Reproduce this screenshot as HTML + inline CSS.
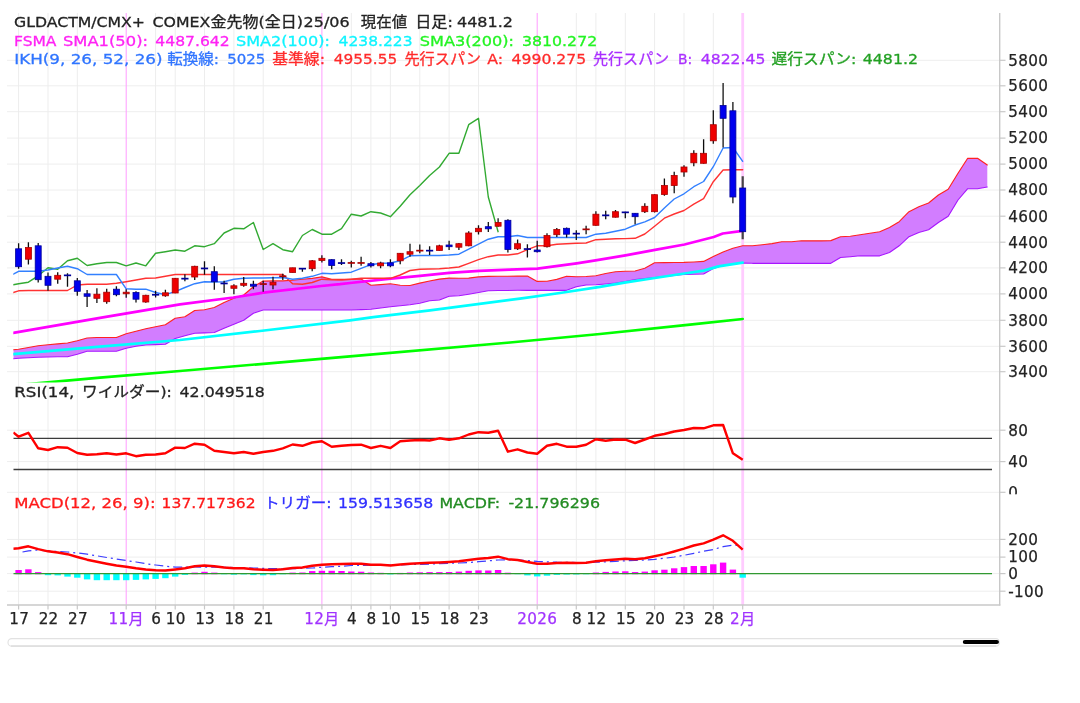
<!DOCTYPE html>
<html lang="ja"><head><meta charset="utf-8"><title>GLDACTM/CMX+ COMEX金先物</title>
<style>
html,body{margin:0;padding:0;background:#fff;}
body{width:1080px;height:703px;overflow:hidden;}
svg{display:block;}
text{font-family:"DejaVu Sans","Liberation Sans","Noto Sans CJK JP",sans-serif;}
.t{font-size:14.5px;stroke-width:0.3px;}
.ax{font-size:15.2px;fill:#222;stroke:#222;stroke-width:0.25px;letter-spacing:0.3px;}
</style></head><body>
<svg width="1080" height="703" viewBox="0 0 1080 703">
<defs>
<clipPath id="cm"><rect x="13.3" y="13" width="986" height="369.5"/></clipPath>
<clipPath id="cr"><rect x="13.3" y="383" width="986" height="111"/></clipPath>
<clipPath id="cd"><rect x="13.3" y="494.5" width="986" height="110"/></clipPath>
<clipPath id="cl"><rect x="1000" y="380" width="28.2" height="114.2"/></clipPath>
</defs>
<filter id="bl" x="0" y="0" width="1080" height="703" filterUnits="userSpaceOnUse"><feGaussianBlur stdDeviation="0.45"/></filter>
<rect width="1080" height="703" fill="#fff"/>
<g filter="url(#bl)">

<g stroke="#eeeeee" stroke-width="1">
<line x1="7" x2="999.5" y1="60.3" y2="60.3"/>
<line x1="7" x2="999.5" y1="85.8" y2="85.8"/>
<line x1="7" x2="999.5" y1="111.7" y2="111.7"/>
<line x1="7" x2="999.5" y1="138.1" y2="138.1"/>
<line x1="7" x2="999.5" y1="164.1" y2="164.1"/>
<line x1="7" x2="999.5" y1="190" y2="190"/>
<line x1="7" x2="999.5" y1="216.2" y2="216.2"/>
<line x1="7" x2="999.5" y1="242.2" y2="242.2"/>
<line x1="7" x2="999.5" y1="267.9" y2="267.9"/>
<line x1="7" x2="999.5" y1="293.9" y2="293.9"/>
<line x1="7" x2="999.5" y1="320.3" y2="320.3"/>
<line x1="7" x2="999.5" y1="346.3" y2="346.3"/>
<line x1="7" x2="999.5" y1="371.7" y2="371.7"/>
<line x1="7" x2="999.5" y1="430.2" y2="430.2"/>
<line x1="7" x2="999.5" y1="461.6" y2="461.6"/>
<line x1="7" x2="999.5" y1="492.3" y2="492.3"/>
<line x1="7" x2="999.5" y1="539.4" y2="539.4"/>
<line x1="7" x2="999.5" y1="557.1" y2="557.1"/>
<line x1="7" x2="999.5" y1="573.6" y2="573.6"/>
<line x1="7" x2="999.5" y1="591.2" y2="591.2"/>
</g>
<g stroke-width="1">
<line x1="18.6" x2="18.6" y1="13" y2="605" stroke="#ededed"/>
<line x1="48" x2="48" y1="13" y2="605" stroke="#ededed"/>
<line x1="77.3" x2="77.3" y1="13" y2="605" stroke="#ededed"/>
<line x1="126.2" x2="126.2" y1="13" y2="605" stroke="#ff9cff"/>
<line x1="155.6" x2="155.6" y1="13" y2="605" stroke="#ededed"/>
<line x1="175.2" x2="175.2" y1="13" y2="605" stroke="#ededed"/>
<line x1="204.5" x2="204.5" y1="13" y2="605" stroke="#ededed"/>
<line x1="233.9" x2="233.9" y1="13" y2="605" stroke="#ededed"/>
<line x1="263.2" x2="263.2" y1="13" y2="605" stroke="#ededed"/>
<line x1="321.9" x2="321.9" y1="13" y2="605" stroke="#ff9cff"/>
<line x1="351.3" x2="351.3" y1="13" y2="605" stroke="#ededed"/>
<line x1="370.9" x2="370.9" y1="13" y2="605" stroke="#ededed"/>
<line x1="390.4" x2="390.4" y1="13" y2="605" stroke="#ededed"/>
<line x1="419.8" x2="419.8" y1="13" y2="605" stroke="#ededed"/>
<line x1="449.1" x2="449.1" y1="13" y2="605" stroke="#ededed"/>
<line x1="478.5" x2="478.5" y1="13" y2="605" stroke="#ededed"/>
<line x1="537.2" x2="537.2" y1="13" y2="605" stroke="#ff9cff"/>
<line x1="576.3" x2="576.3" y1="13" y2="605" stroke="#ededed"/>
<line x1="595.9" x2="595.9" y1="13" y2="605" stroke="#ededed"/>
<line x1="625.3" x2="625.3" y1="13" y2="605" stroke="#ededed"/>
<line x1="654.6" x2="654.6" y1="13" y2="605" stroke="#ededed"/>
<line x1="684" x2="684" y1="13" y2="605" stroke="#ededed"/>
<line x1="713.3" x2="713.3" y1="13" y2="605" stroke="#ededed"/>
<line x1="742.7" x2="742.7" y1="13" y2="605" stroke="#ffccff" stroke-width="2.8"/>
</g>
<g clip-path="url(#cm)" fill="none" stroke-linejoin="round" stroke-linecap="round">
<path d="M13.3 349.7 L18.6 349.2 L28.4 347.5 L38.2 345.8 L48 344.8 L57.7 343.9 L67.5 343 L77.3 340.8 L87.1 338 L96.9 337.5 L106.7 337.5 L116.4 337.5 L126.2 333.8 L136 331.2 L145.8 328.7 L155.6 326.7 L165.4 324.7 L175.2 318.3 L184.9 316.7 L194.7 310.5 L204.5 309.7 L214.3 307.5 L224.1 302.5 L233.9 298.3 L243.7 295 L253.4 286.7 L263.2 281.1 L273 280.9 L282.8 280.9 L292.6 280.2 L302.4 279.2 L312.2 278.4 L321.9 276.9 L331.7 279.4 L341.5 279.4 L351.3 279.4 L361.1 278.9 L370.9 285.2 L380.6 284.6 L390.4 283.8 L400.2 285.2 L410 285.5 L419.8 283.1 L429.6 281 L439.4 279.1 L449.1 278.1 L458.9 278.2 L468.7 278.1 L478.5 276.9 L488.3 276.4 L498.1 276.2 L507.9 276.2 L517.6 276.1 L527.4 276 L537.2 281.4 L547 281.2 L556.8 279.4 L566.6 276.2 L576.3 276.7 L586.1 276.5 L595.9 275.7 L605.7 273.5 L615.5 271.7 L625.3 271.3 L635.1 271 L644.8 268.2 L654.6 262.8 L664.4 262.6 L674.2 262.5 L684 262.4 L693.8 262 L703.6 261.4 L713.3 256.5 L723.1 252 L732.9 248.3 L742.7 245.7 L752.5 245.8 L762.3 244.7 L772 243.6 L781.8 241.7 L791.6 241.7 L801.4 240.8 L811.2 240.8 L821 240.8 L830.8 240.6 L840.5 236.7 L850.3 236.3 L860.1 234.7 L869.9 233.3 L879.7 231.7 L889.5 227.5 L899.2 221.7 L909 211.7 L918.8 206.7 L928.6 203 L938.4 195 L948.2 189.2 L958 173.3 L967.7 158.3 L977.5 158.3 L987.3 165 L987.3 187 L977.5 188.7 L967.7 188.7 L958 200 L948.2 216.3 L938.4 222.5 L928.6 229.7 L918.8 232.5 L909 236.7 L899.2 245.8 L889.5 252.5 L879.7 255.8 L869.9 255.8 L860.1 255.8 L850.3 256.7 L840.5 257.5 L830.8 263.3 L821 263.3 L811.2 263.3 L801.4 263.3 L791.6 263.3 L781.8 263.3 L772 263.3 L762.3 263.3 L752.5 263.3 L742.7 263 L732.9 264 L723.1 265.5 L713.3 268.5 L703.6 274 L693.8 274.3 L684 274.5 L674.2 275.5 L664.4 276.5 L654.6 277.5 L644.8 278.5 L635.1 279.5 L625.3 281.5 L615.5 283 L605.7 284 L595.9 284.8 L586.1 285 L576.3 286.7 L566.6 290.3 L556.8 290.3 L547 290.3 L537.2 290.3 L527.4 290.3 L517.6 290.3 L507.9 290.5 L498.1 290.5 L488.3 290.8 L478.5 292.5 L468.7 294.2 L458.9 295.8 L449.1 296.3 L439.4 300 L429.6 300.8 L419.8 303.3 L410 304.7 L400.2 305.7 L390.4 306.7 L380.6 308 L370.9 309.2 L361.1 309.6 L351.3 310 L341.5 310 L331.7 310 L321.9 310 L312.2 310 L302.4 310 L292.6 310 L282.8 310 L273 310 L263.2 310 L253.4 313.3 L243.7 320.3 L233.9 324.2 L224.1 328.3 L214.3 332.5 L204.5 332.9 L194.7 333.3 L184.9 335.8 L175.2 338.5 L165.4 344.2 L155.6 344.6 L145.8 345 L136 346.3 L126.2 348.3 L116.4 351.2 L106.7 351.2 L96.9 351.2 L87.1 351.2 L77.3 354.2 L67.5 356.7 L57.7 356.8 L48 357 L38.2 357.2 L28.4 357.7 L18.6 358.3 L13.3 358.7 Z" fill="#d27dff" stroke="none"/>
<path d="M13.3 358.7 L18.6 358.3 L28.4 357.7 L38.2 357.2 L48 357 L57.7 356.8 L67.5 356.7 L77.3 354.2 L87.1 351.2 L96.9 351.2 L106.7 351.2 L116.4 351.2 L126.2 348.3 L136 346.3 L145.8 345 L155.6 344.6 L165.4 344.2 L175.2 338.5 L184.9 335.8 L194.7 333.3 L204.5 332.9 L214.3 332.5 L224.1 328.3 L233.9 324.2 L243.7 320.3 L253.4 313.3 L263.2 310 L273 310 L282.8 310 L292.6 310 L302.4 310 L312.2 310 L321.9 310 L331.7 310 L341.5 310 L351.3 310 L361.1 309.6 L370.9 309.2 L380.6 308 L390.4 306.7 L400.2 305.7 L410 304.7 L419.8 303.3 L429.6 300.8 L439.4 300 L449.1 296.3 L458.9 295.8 L468.7 294.2 L478.5 292.5 L488.3 290.8 L498.1 290.5 L507.9 290.5 L517.6 290.3 L527.4 290.3 L537.2 290.3 L547 290.3 L556.8 290.3 L566.6 290.3 L576.3 286.7 L586.1 285 L595.9 284.8 L605.7 284 L615.5 283 L625.3 281.5 L635.1 279.5 L644.8 278.5 L654.6 277.5 L664.4 276.5 L674.2 275.5 L684 274.5 L693.8 274.3 L703.6 274 L713.3 268.5 L723.1 265.5 L732.9 264 L742.7 263 L752.5 263.3 L762.3 263.3 L772 263.3 L781.8 263.3 L791.6 263.3 L801.4 263.3 L811.2 263.3 L821 263.3 L830.8 263.3 L840.5 257.5 L850.3 256.7 L860.1 255.8 L869.9 255.8 L879.7 255.8 L889.5 252.5 L899.2 245.8 L909 236.7 L918.8 232.5 L928.6 229.7 L938.4 222.5 L948.2 216.3 L958 200 L967.7 188.7 L977.5 188.7 L987.3 187" stroke="#a818ff" stroke-width="1.15"/>
<path d="M13.3 349.7 L18.6 349.2 L28.4 347.5 L38.2 345.8 L48 344.8 L57.7 343.9 L67.5 343 L77.3 340.8 L87.1 338 L96.9 337.5 L106.7 337.5 L116.4 337.5 L126.2 333.8 L136 331.2 L145.8 328.7 L155.6 326.7 L165.4 324.7 L175.2 318.3 L184.9 316.7 L194.7 310.5 L204.5 309.7 L214.3 307.5 L224.1 302.5 L233.9 298.3 L243.7 295 L253.4 286.7 L263.2 281.1 L273 280.9 L282.8 280.9 L292.6 280.2 L302.4 279.2 L312.2 278.4 L321.9 276.9 L331.7 279.4 L341.5 279.4 L351.3 279.4 L361.1 278.9 L370.9 285.2 L380.6 284.6 L390.4 283.8 L400.2 285.2 L410 285.5 L419.8 283.1 L429.6 281 L439.4 279.1 L449.1 278.1 L458.9 278.2 L468.7 278.1 L478.5 276.9 L488.3 276.4 L498.1 276.2 L507.9 276.2 L517.6 276.1 L527.4 276 L537.2 281.4 L547 281.2 L556.8 279.4 L566.6 276.2 L576.3 276.7 L586.1 276.5 L595.9 275.7 L605.7 273.5 L615.5 271.7 L625.3 271.3 L635.1 271 L644.8 268.2 L654.6 262.8 L664.4 262.6 L674.2 262.5 L684 262.4 L693.8 262 L703.6 261.4 L713.3 256.5 L723.1 252 L732.9 248.3 L742.7 245.7 L752.5 245.8 L762.3 244.7 L772 243.6 L781.8 241.7 L791.6 241.7 L801.4 240.8 L811.2 240.8 L821 240.8 L830.8 240.6 L840.5 236.7 L850.3 236.3 L860.1 234.7 L869.9 233.3 L879.7 231.7 L889.5 227.5 L899.2 221.7 L909 211.7 L918.8 206.7 L928.6 203 L938.4 195 L948.2 189.2 L958 173.3 L967.7 158.3 L977.5 158.3 L987.3 165" stroke="#ff2222" stroke-width="1.15"/>
<path d="M13.3 385.3 L30.8 383.9 L100 377.6 L180 371 L350 356.3 L510 342.5 L600 334 L690 324.7 L742.7 319" stroke="#00ff00" stroke-width="2.7"/>
<path d="M13.3 354.2 L100 346.6 L180 340 L260 331 L350 320.3 L373.3 317.2 L430 310.3 L520 298.6 L560 293 L600 286.9 L625.9 282.4 L654.8 278 L684.4 273.5 L703.7 270.6 L718.5 266.4 L742.7 262.6" stroke="#00ffff" stroke-width="2.7"/>
<path d="M13.3 332.8 L100 317.8 L180 304.4 L233.3 297.5 L263.3 292.7 L321.3 286 L340 284.2 L350 283 L390.8 278.7 L420 275.8 L449.2 272.8 L479.2 270.8 L510 269.7 L537.5 268.7 L576.7 263.3 L595.5 260.3 L625.5 255.3 L655 249.9 L684.5 244.5 L713.7 237 L722.8 233.5 L742.7 230.8" stroke="#ff00ff" stroke-width="2.7"/>
<path d="M13.3 284.7 L18.6 283.7 L28.4 282.2 L38.2 275.8 L48 267.8 L57.7 269.3 L67.5 260.8 L77.3 258.3 L87.1 265.5 L96.9 263.7 L106.7 262.5 L116.4 262.5 L126.2 265.8 L136 263 L145.8 265.8 L155.6 253.3 L165.4 251.7 L175.2 250 L184.9 251.2 L194.7 245.8 L204.5 246.7 L214.3 243.7 L224.1 233 L233.9 228.3 L243.7 228.8 L253.4 222.5 L263.2 249.5 L273 243.7 L282.8 249.7 L292.6 251.7 L302.4 235.5 L312.2 229.5 L321.9 234.2 L331.7 234.2 L341.5 228.7 L351.3 214.2 L361.1 216 L370.9 211.7 L380.6 213 L390.4 216.7 L400.2 206.3 L410 194.7 L419.8 185.5 L429.6 175.5 L439.4 167 L449.1 153.3 L458.9 153.3 L468.7 124.7 L478.5 118.3 L488.3 197 L498.1 231.7" stroke="#33aa33" stroke-width="1.4"/>
<path d="M13.3 292.5 L18.6 290.8 L28.4 290.5 L38.2 290.5 L48 290.5 L57.7 290.5 L67.5 290.5 L77.3 285 L87.1 284.2 L96.9 284.2 L106.7 284.2 L116.4 283.3 L126.2 281.7 L136 280 L145.8 278.3 L155.6 278 L165.4 276.3 L175.2 274.5 L184.9 274.5 L194.7 274.5 L204.5 274.5 L214.3 274.5 L224.1 274.5 L233.9 274.5 L243.7 274.5 L253.4 274.5 L263.2 274.5 L273 274.5 L282.8 274.5 L292.6 283.7 L302.4 284.2 L312.2 282.5 L321.9 279.2 L331.7 279.7 L341.5 280 L351.3 279.2 L361.1 278.3 L370.9 278.3 L380.6 278.3 L390.4 278.3 L400.2 275 L410 270.5 L419.8 269.2 L429.6 269 L439.4 268.7 L449.1 268 L458.9 267 L468.7 263.3 L478.5 259.7 L488.3 256.7 L498.1 255 L507.9 255 L517.6 253.8 L527.4 249.7 L537.2 245.8 L547 245.8 L556.8 244.2 L566.6 243.8 L576.3 243.3 L586.1 243 L595.9 239.7 L605.7 239.2 L615.5 238.8 L625.3 238.6 L635.1 238.3 L644.8 234 L654.6 226.2 L664.4 218.2 L674.2 214 L684 210.5 L693.8 204.2 L703.6 198.7 L713.3 181.7 L723.1 170 L732.9 169.7 L742.7 169.7" stroke="#ff3333" stroke-width="1.4"/>
<path d="M13.3 274.2 L18.6 271.3 L28.4 271.3 L38.2 271.3 L48 270 L57.7 268 L67.5 266.3 L77.3 268.7 L87.1 274.5 L96.9 274.5 L106.7 274.5 L116.4 274.5 L126.2 288.8 L136 289.2 L145.8 289.2 L155.6 292.5 L165.4 294.7 L175.2 291.7 L184.9 287.5 L194.7 283.7 L204.5 281.7 L214.3 282 L224.1 281.7 L233.9 279.2 L243.7 278.3 L253.4 278 L263.2 278 L273 277.7 L282.8 277.5 L292.6 279.2 L302.4 278.3 L312.2 276.3 L321.9 273.3 L331.7 273.7 L341.5 273 L351.3 272.2 L361.1 268.3 L370.9 264.7 L380.6 263.3 L390.4 263 L400.2 260.8 L410 255.8 L419.8 255.5 L429.6 255.5 L439.4 255.5 L449.1 255 L458.9 254.2 L468.7 249.2 L478.5 244.2 L488.3 239.2 L498.1 236.7 L507.9 236.7 L517.6 235.5 L527.4 237.5 L537.2 237.5 L547 237.5 L556.8 237.5 L566.6 237.5 L576.3 237.5 L586.1 237.5 L595.9 234.2 L605.7 233.3 L615.5 231.2 L625.3 229.2 L635.1 225 L644.8 221.8 L654.6 217.5 L664.4 208 L674.2 199 L684 193.8 L693.8 186.7 L703.6 181.5 L713.3 166.7 L723.1 148 L732.9 147.5 L742.7 161.3" stroke="#3380ff" stroke-width="1.4"/>
</g>
<g clip-path="url(#cm)">
<line x1="18.6" x2="18.6" y1="243.3" y2="268.7" stroke="#111" stroke-width="1.3"/>
<rect x="15.6" y="248.8" width="6.0" height="17.9" fill="#0000ee" stroke="#000099" stroke-width="0.8"/>
<line x1="28.4" x2="28.4" y1="242.2" y2="264.5" stroke="#111" stroke-width="1.3"/>
<rect x="25.4" y="247.5" width="6.0" height="11.7" fill="#ee0000" stroke="#aa0000" stroke-width="0.8"/>
<line x1="38.2" x2="38.2" y1="243" y2="282.5" stroke="#111" stroke-width="1.3"/>
<rect x="35.2" y="245.8" width="6.0" height="33.9" fill="#0000ee" stroke="#000099" stroke-width="0.8"/>
<line x1="48" x2="48" y1="272.5" y2="290.8" stroke="#111" stroke-width="1.3"/>
<rect x="45" y="276.3" width="6.0" height="9" fill="#0000ee" stroke="#000099" stroke-width="0.8"/>
<line x1="57.7" x2="57.7" y1="272.2" y2="283.7" stroke="#111" stroke-width="1.3"/>
<rect x="54.7" y="275.3" width="6.0" height="3.9" fill="#ee0000" stroke="#aa0000" stroke-width="0.8"/>
<line x1="67.5" x2="67.5" y1="273.3" y2="286.7" stroke="#111" stroke-width="1.3"/>
<rect x="63.9" y="274.5" width="7.2" height="1.7" fill="#000099"/>
<line x1="77.3" x2="77.3" y1="278" y2="295.8" stroke="#111" stroke-width="1.3"/>
<rect x="74.3" y="280.8" width="6.0" height="10.5" fill="#0000ee" stroke="#000099" stroke-width="0.8"/>
<line x1="87.1" x2="87.1" y1="290" y2="307" stroke="#111" stroke-width="1.3"/>
<rect x="84.1" y="293.8" width="6.0" height="2.5" fill="#0000ee" stroke="#000099" stroke-width="0.8"/>
<line x1="96.9" x2="96.9" y1="288.3" y2="303" stroke="#111" stroke-width="1.3"/>
<rect x="93.9" y="294.2" width="6.0" height="4.1" fill="#ee0000" stroke="#aa0000" stroke-width="0.8"/>
<line x1="106.7" x2="106.7" y1="288.7" y2="303.7" stroke="#111" stroke-width="1.3"/>
<rect x="103.7" y="292.2" width="6.0" height="9.5" fill="#ee0000" stroke="#aa0000" stroke-width="0.8"/>
<line x1="116.4" x2="116.4" y1="286.3" y2="296.3" stroke="#111" stroke-width="1.3"/>
<rect x="113.4" y="289.2" width="6.0" height="5.5" fill="#0000ee" stroke="#000099" stroke-width="0.8"/>
<line x1="126.2" x2="126.2" y1="289.2" y2="297.8" stroke="#111" stroke-width="1.3"/>
<rect x="123.2" y="292.2" width="6.0" height="1.6" fill="#ee0000" stroke="#aa0000" stroke-width="0.8"/>
<line x1="136" x2="136" y1="291.3" y2="302.5" stroke="#111" stroke-width="1.3"/>
<rect x="133" y="292.5" width="6.0" height="6.7" fill="#0000ee" stroke="#000099" stroke-width="0.8"/>
<line x1="145.8" x2="145.8" y1="294.7" y2="302.7" stroke="#111" stroke-width="1.3"/>
<rect x="142.8" y="295.3" width="6.0" height="6.7" fill="#ee0000" stroke="#aa0000" stroke-width="0.8"/>
<line x1="155.6" x2="155.6" y1="290.8" y2="297.5" stroke="#111" stroke-width="1.3"/>
<rect x="152" y="293.9" width="7.2" height="1.7" fill="#000099"/>
<line x1="165.4" x2="165.4" y1="289.7" y2="296.7" stroke="#111" stroke-width="1.3"/>
<rect x="162.4" y="292.8" width="6.0" height="3" fill="#ee0000" stroke="#aa0000" stroke-width="0.8"/>
<line x1="175.2" x2="175.2" y1="278" y2="293.3" stroke="#111" stroke-width="1.3"/>
<rect x="172.2" y="278.3" width="6.0" height="14.7" fill="#ee0000" stroke="#aa0000" stroke-width="0.8"/>
<line x1="184.9" x2="184.9" y1="274.2" y2="281.2" stroke="#111" stroke-width="1.3"/>
<rect x="181.3" y="277.8" width="7.2" height="1.7" fill="#000099"/>
<line x1="194.7" x2="194.7" y1="265.8" y2="280" stroke="#111" stroke-width="1.3"/>
<rect x="191.7" y="266.3" width="6.0" height="10.7" fill="#ee0000" stroke="#aa0000" stroke-width="0.8"/>
<line x1="204.5" x2="204.5" y1="261.3" y2="274.7" stroke="#111" stroke-width="1.3"/>
<rect x="200.9" y="267.6" width="7.2" height="1.7" fill="#000099"/>
<line x1="214.3" x2="214.3" y1="266.3" y2="289.7" stroke="#111" stroke-width="1.3"/>
<rect x="211.3" y="271.7" width="6.0" height="10" fill="#0000ee" stroke="#000099" stroke-width="0.8"/>
<line x1="224.1" x2="224.1" y1="280.8" y2="293" stroke="#111" stroke-width="1.3"/>
<rect x="220.5" y="282.6" width="7.2" height="1.7" fill="#000099"/>
<line x1="233.9" x2="233.9" y1="284.2" y2="294.2" stroke="#111" stroke-width="1.3"/>
<rect x="230.9" y="285.8" width="6.0" height="2.5" fill="#ee0000" stroke="#aa0000" stroke-width="0.8"/>
<line x1="243.7" x2="243.7" y1="277" y2="286.7" stroke="#111" stroke-width="1.3"/>
<rect x="240.7" y="283.3" width="6.0" height="2" fill="#ee0000" stroke="#aa0000" stroke-width="0.8"/>
<line x1="253.4" x2="253.4" y1="280.8" y2="289.2" stroke="#111" stroke-width="1.3"/>
<rect x="250.4" y="284.2" width="6.0" height="2" fill="#0000ee" stroke="#000099" stroke-width="0.8"/>
<line x1="263.2" x2="263.2" y1="280.8" y2="291.7" stroke="#111" stroke-width="1.3"/>
<rect x="259.6" y="283.2" width="7.2" height="1.7" fill="#aa0000"/>
<line x1="273" x2="273" y1="276.7" y2="289.2" stroke="#111" stroke-width="1.3"/>
<rect x="270" y="282.2" width="6.0" height="2.8" fill="#ee0000" stroke="#aa0000" stroke-width="0.8"/>
<line x1="282.8" x2="282.8" y1="273.8" y2="280" stroke="#111" stroke-width="1.3"/>
<rect x="279.2" y="275.4" width="7.2" height="1.7" fill="#aa0000"/>
<line x1="292.6" x2="292.6" y1="267.8" y2="272.5" stroke="#111" stroke-width="1.3"/>
<rect x="289.6" y="267.8" width="6.0" height="4.7" fill="#ee0000" stroke="#aa0000" stroke-width="0.8"/>
<line x1="302.4" x2="302.4" y1="268" y2="271.7" stroke="#111" stroke-width="1.3"/>
<rect x="298.8" y="267.8" width="7.2" height="1.7" fill="#000099"/>
<line x1="312.2" x2="312.2" y1="260" y2="271.3" stroke="#111" stroke-width="1.3"/>
<rect x="309.2" y="260.8" width="6.0" height="7.9" fill="#ee0000" stroke="#aa0000" stroke-width="0.8"/>
<line x1="321.9" x2="321.9" y1="255.3" y2="262.5" stroke="#111" stroke-width="1.3"/>
<rect x="318.9" y="258.3" width="6.0" height="2.2" fill="#ee0000" stroke="#aa0000" stroke-width="0.8"/>
<line x1="331.7" x2="331.7" y1="259.2" y2="269.2" stroke="#111" stroke-width="1.3"/>
<rect x="328.7" y="259.7" width="6.0" height="5.8" fill="#0000ee" stroke="#000099" stroke-width="0.8"/>
<line x1="341.5" x2="341.5" y1="259.2" y2="265" stroke="#111" stroke-width="1.3"/>
<rect x="337.9" y="262.2" width="7.2" height="1.7" fill="#000099"/>
<line x1="351.3" x2="351.3" y1="260.8" y2="267.5" stroke="#111" stroke-width="1.3"/>
<rect x="347.7" y="262.1" width="7.2" height="1.7" fill="#aa0000"/>
<line x1="361.1" x2="361.1" y1="256.7" y2="265.8" stroke="#111" stroke-width="1.3"/>
<rect x="357.5" y="262.1" width="7.2" height="1.7" fill="#aa0000"/>
<line x1="370.9" x2="370.9" y1="262" y2="267.5" stroke="#111" stroke-width="1.3"/>
<rect x="367.9" y="263.7" width="6.0" height="2.1" fill="#0000ee" stroke="#000099" stroke-width="0.8"/>
<line x1="380.6" x2="380.6" y1="261.7" y2="268.3" stroke="#111" stroke-width="1.3"/>
<rect x="377.6" y="263" width="6.0" height="2.8" fill="#ee0000" stroke="#aa0000" stroke-width="0.8"/>
<line x1="390.4" x2="390.4" y1="259.2" y2="267.2" stroke="#111" stroke-width="1.3"/>
<rect x="387.4" y="262.8" width="6.0" height="3" fill="#0000ee" stroke="#000099" stroke-width="0.8"/>
<line x1="400.2" x2="400.2" y1="253" y2="264.2" stroke="#111" stroke-width="1.3"/>
<rect x="397.2" y="253.3" width="6.0" height="7.5" fill="#ee0000" stroke="#aa0000" stroke-width="0.8"/>
<line x1="410" x2="410" y1="243.7" y2="256.7" stroke="#111" stroke-width="1.3"/>
<rect x="407" y="251.7" width="6.0" height="2.5" fill="#ee0000" stroke="#aa0000" stroke-width="0.8"/>
<line x1="419.8" x2="419.8" y1="244.5" y2="253.3" stroke="#111" stroke-width="1.3"/>
<rect x="416.2" y="249.8" width="7.2" height="1.7" fill="#aa0000"/>
<line x1="429.6" x2="429.6" y1="246.3" y2="255" stroke="#111" stroke-width="1.3"/>
<rect x="426" y="249.8" width="7.2" height="1.7" fill="#000099"/>
<line x1="439.4" x2="439.4" y1="244.7" y2="250.8" stroke="#111" stroke-width="1.3"/>
<rect x="436.4" y="245.8" width="6.0" height="4.7" fill="#ee0000" stroke="#aa0000" stroke-width="0.8"/>
<line x1="449.1" x2="449.1" y1="240.8" y2="250" stroke="#111" stroke-width="1.3"/>
<rect x="446.1" y="245" width="6.0" height="1.7" fill="#0000ee" stroke="#000099" stroke-width="0.8"/>
<line x1="458.9" x2="458.9" y1="243" y2="250" stroke="#111" stroke-width="1.3"/>
<rect x="455.9" y="243.7" width="6.0" height="3.5" fill="#ee0000" stroke="#aa0000" stroke-width="0.8"/>
<line x1="468.7" x2="468.7" y1="231.3" y2="246.3" stroke="#111" stroke-width="1.3"/>
<rect x="465.7" y="233" width="6.0" height="12.8" fill="#ee0000" stroke="#aa0000" stroke-width="0.8"/>
<line x1="478.5" x2="478.5" y1="225.3" y2="234.5" stroke="#111" stroke-width="1.3"/>
<rect x="475.5" y="228.3" width="6.0" height="3.4" fill="#ee0000" stroke="#aa0000" stroke-width="0.8"/>
<line x1="488.3" x2="488.3" y1="222" y2="232" stroke="#111" stroke-width="1.3"/>
<rect x="485.3" y="226.7" width="6.0" height="2.1" fill="#0000ee" stroke="#000099" stroke-width="0.8"/>
<line x1="498.1" x2="498.1" y1="218.3" y2="226.7" stroke="#111" stroke-width="1.3"/>
<rect x="495.1" y="222.5" width="6.0" height="3.7" fill="#ee0000" stroke="#aa0000" stroke-width="0.8"/>
<line x1="507.9" x2="507.9" y1="219.2" y2="252.5" stroke="#111" stroke-width="1.3"/>
<rect x="504.9" y="220.3" width="6.0" height="29.2" fill="#0000ee" stroke="#000099" stroke-width="0.8"/>
<line x1="517.6" x2="517.6" y1="239.6" y2="250" stroke="#111" stroke-width="1.3"/>
<rect x="514.6" y="243.7" width="6.0" height="5.1" fill="#ee0000" stroke="#aa0000" stroke-width="0.8"/>
<line x1="527.4" x2="527.4" y1="244.2" y2="257.5" stroke="#111" stroke-width="1.3"/>
<rect x="523.8" y="248.2" width="7.2" height="1.7" fill="#000099"/>
<line x1="537.2" x2="537.2" y1="240.8" y2="252.5" stroke="#111" stroke-width="1.3"/>
<rect x="534.2" y="250" width="6.0" height="1.7" fill="#0000ee" stroke="#000099" stroke-width="0.8"/>
<line x1="547" x2="547" y1="233.3" y2="247.5" stroke="#111" stroke-width="1.3"/>
<rect x="544" y="235.5" width="6.0" height="11.2" fill="#ee0000" stroke="#aa0000" stroke-width="0.8"/>
<line x1="556.8" x2="556.8" y1="228" y2="237" stroke="#111" stroke-width="1.3"/>
<rect x="553.8" y="229.5" width="6.0" height="5.2" fill="#ee0000" stroke="#aa0000" stroke-width="0.8"/>
<line x1="566.6" x2="566.6" y1="227.5" y2="237.5" stroke="#111" stroke-width="1.3"/>
<rect x="563.6" y="228.3" width="6.0" height="5.9" fill="#0000ee" stroke="#000099" stroke-width="0.8"/>
<line x1="576.3" x2="576.3" y1="230.3" y2="240" stroke="#111" stroke-width="1.3"/>
<rect x="572.7" y="232.8" width="7.2" height="1.7" fill="#000099"/>
<line x1="586.1" x2="586.1" y1="225.8" y2="234.2" stroke="#111" stroke-width="1.3"/>
<rect x="582.5" y="228.5" width="7.2" height="1.7" fill="#aa0000"/>
<line x1="595.9" x2="595.9" y1="211.3" y2="225.8" stroke="#111" stroke-width="1.3"/>
<rect x="592.9" y="214.2" width="6.0" height="11.1" fill="#ee0000" stroke="#aa0000" stroke-width="0.8"/>
<line x1="605.7" x2="605.7" y1="210.8" y2="219.2" stroke="#111" stroke-width="1.3"/>
<rect x="602.1" y="214.5" width="7.2" height="1.7" fill="#000099"/>
<line x1="615.5" x2="615.5" y1="210" y2="217.5" stroke="#111" stroke-width="1.3"/>
<rect x="612.5" y="211.7" width="6.0" height="5.5" fill="#ee0000" stroke="#aa0000" stroke-width="0.8"/>
<line x1="625.3" x2="625.3" y1="211.7" y2="218.3" stroke="#111" stroke-width="1.3"/>
<rect x="621.7" y="211.5" width="7.2" height="1.7" fill="#000099"/>
<line x1="635.1" x2="635.1" y1="213" y2="224.2" stroke="#111" stroke-width="1.3"/>
<rect x="632.1" y="213.3" width="6.0" height="3.4" fill="#0000ee" stroke="#000099" stroke-width="0.8"/>
<line x1="644.8" x2="644.8" y1="203.3" y2="213" stroke="#111" stroke-width="1.3"/>
<rect x="641.8" y="206.3" width="6.0" height="5.4" fill="#ee0000" stroke="#aa0000" stroke-width="0.8"/>
<line x1="654.6" x2="654.6" y1="194.2" y2="212.5" stroke="#111" stroke-width="1.3"/>
<rect x="651.6" y="194.7" width="6.0" height="17" fill="#ee0000" stroke="#aa0000" stroke-width="0.8"/>
<line x1="664.4" x2="664.4" y1="178.5" y2="195.8" stroke="#111" stroke-width="1.3"/>
<rect x="661.4" y="185.5" width="6.0" height="9" fill="#ee0000" stroke="#aa0000" stroke-width="0.8"/>
<line x1="674.2" x2="674.2" y1="171.7" y2="193.3" stroke="#111" stroke-width="1.3"/>
<rect x="671.2" y="175.5" width="6.0" height="10" fill="#ee0000" stroke="#aa0000" stroke-width="0.8"/>
<line x1="684" x2="684" y1="165.3" y2="176.7" stroke="#111" stroke-width="1.3"/>
<rect x="681" y="167" width="6.0" height="5" fill="#ee0000" stroke="#aa0000" stroke-width="0.8"/>
<line x1="693.8" x2="693.8" y1="150.3" y2="166.3" stroke="#111" stroke-width="1.3"/>
<rect x="690.8" y="153.3" width="6.0" height="9.5" fill="#ee0000" stroke="#aa0000" stroke-width="0.8"/>
<line x1="703.6" x2="703.6" y1="139.2" y2="163.7" stroke="#111" stroke-width="1.3"/>
<rect x="700.6" y="153.3" width="6.0" height="10" fill="#ee0000" stroke="#aa0000" stroke-width="0.8"/>
<line x1="713.3" x2="713.3" y1="110.3" y2="143.7" stroke="#111" stroke-width="1.3"/>
<rect x="710.3" y="124.7" width="6.0" height="16.1" fill="#ee0000" stroke="#aa0000" stroke-width="0.8"/>
<line x1="723.1" x2="723.1" y1="83" y2="147.5" stroke="#111" stroke-width="1.3"/>
<rect x="720.1" y="105.5" width="6.0" height="12.8" fill="#0000ee" stroke="#000099" stroke-width="0.8"/>
<line x1="732.9" x2="732.9" y1="102" y2="203.3" stroke="#111" stroke-width="1.3"/>
<rect x="729.9" y="110.8" width="6.0" height="86.2" fill="#0000ee" stroke="#000099" stroke-width="0.8"/>
<line x1="742.7" x2="742.7" y1="176.3" y2="239.2" stroke="#444" stroke-width="2.2"/>
<rect x="739.7" y="188" width="6.0" height="43.7" fill="#0000ee" stroke="#000099" stroke-width="0.8"/>
</g>
<g clip-path="url(#cr)" fill="none" stroke-linejoin="round" stroke-linecap="butt">
<line x1="13.3" x2="992" y1="438.4" y2="438.4" stroke="#3a3a3a" stroke-width="1.4"/>
<line x1="13.3" x2="992" y1="469.5" y2="469.5" stroke="#3a3a3a" stroke-width="1.4"/>
<path d="M13.3 432.5 L18.6 436.7 L28.4 432.8 L38.2 448.3 L48 450 L57.7 447.2 L67.5 447.8 L77.3 453 L87.1 454.7 L96.9 454.2 L106.7 453.3 L116.4 454.5 L126.2 453.3 L136 456.2 L145.8 454.7 L155.6 454.5 L165.4 453.3 L175.2 447.6 L184.9 448 L194.7 443.7 L204.5 444.7 L214.3 450.8 L224.1 452 L233.9 453.3 L243.7 452 L253.4 453.8 L263.2 452 L273 450.8 L282.8 448.3 L292.6 444.5 L302.4 445.8 L312.2 442.5 L321.9 441.2 L331.7 446.7 L341.5 445.8 L351.3 445 L361.1 444.7 L370.9 448 L380.6 445.8 L390.4 448 L400.2 441.3 L410 440.5 L419.8 440 L429.6 440.5 L439.4 438.3 L449.1 439.7 L458.9 438.3 L468.7 434.5 L478.5 432.2 L488.3 432.8 L498.1 430.8 L507.9 451.7 L517.6 449.3 L527.4 452.5 L537.2 453.7 L547 445.8 L556.8 443.8 L566.6 446.7 L576.3 446.7 L586.1 444.7 L595.9 439.2 L605.7 440.8 L615.5 439.5 L625.3 439.7 L635.1 443 L644.8 439.5 L654.6 435.8 L664.4 434 L674.2 431.5 L684 430 L693.8 428 L703.6 428.3 L713.3 425.3 L723.1 425 L732.9 453.3 L742.7 459.7" stroke="#ff0000" stroke-width="2.4"/>
</g>
<g clip-path="url(#cd)" fill="none" stroke-linejoin="round">
<rect x="15.4" y="570" width="6.4" height="4.2" fill="#ff00ff"/>
<rect x="25.2" y="569.3" width="6.4" height="4.9" fill="#ff00ff"/>
<rect x="35" y="572.1" width="6.4" height="2.1" fill="#ff00ff"/>
<rect x="44.8" y="573" width="6.4" height="2.2" fill="#00ffff"/>
<rect x="54.5" y="573" width="6.4" height="2.4" fill="#00ffff"/>
<rect x="64.3" y="573" width="6.4" height="3.6" fill="#00ffff"/>
<rect x="74.1" y="573" width="6.4" height="4.7" fill="#00ffff"/>
<rect x="83.9" y="573" width="6.4" height="6.4" fill="#00ffff"/>
<rect x="93.7" y="573" width="6.4" height="7.2" fill="#00ffff"/>
<rect x="103.5" y="573" width="6.4" height="7.2" fill="#00ffff"/>
<rect x="113.2" y="573" width="6.4" height="7.2" fill="#00ffff"/>
<rect x="123" y="573" width="6.4" height="7.2" fill="#00ffff"/>
<rect x="132.8" y="573" width="6.4" height="6.9" fill="#00ffff"/>
<rect x="142.6" y="573" width="6.4" height="6.4" fill="#00ffff"/>
<rect x="152.4" y="573" width="6.4" height="5.9" fill="#00ffff"/>
<rect x="162.2" y="573" width="6.4" height="5.2" fill="#00ffff"/>
<rect x="172" y="573" width="6.4" height="3.6" fill="#00ffff"/>
<rect x="181.7" y="573" width="6.4" height="1.9" fill="#00ffff"/>
<rect x="191.5" y="572.6" width="6.4" height="1.6" fill="#ff00ff"/>
<rect x="201.3" y="571.8" width="6.4" height="2.4" fill="#ff00ff"/>
<rect x="211.1" y="572.6" width="6.4" height="1.6" fill="#ff00ff"/>
<rect x="220.9" y="573" width="6.4" height="1.3" fill="#00ffff"/>
<rect x="230.7" y="573" width="6.4" height="1.7" fill="#00ffff"/>
<rect x="240.5" y="573" width="6.4" height="1.4" fill="#00ffff"/>
<rect x="250.2" y="573" width="6.4" height="2.1" fill="#00ffff"/>
<rect x="260" y="573" width="6.4" height="2.3" fill="#00ffff"/>
<rect x="269.8" y="573" width="6.4" height="2.2" fill="#00ffff"/>
<rect x="279.6" y="573" width="6.4" height="1.3" fill="#00ffff"/>
<rect x="289.4" y="572.6" width="6.4" height="1.6" fill="#ff00ff"/>
<rect x="299.2" y="572.5" width="6.4" height="1.7" fill="#ff00ff"/>
<rect x="309" y="571.1" width="6.4" height="3.1" fill="#ff00ff"/>
<rect x="318.7" y="570.8" width="6.4" height="3.4" fill="#ff00ff"/>
<rect x="328.5" y="570.8" width="6.4" height="3.4" fill="#ff00ff"/>
<rect x="338.3" y="571" width="6.4" height="3.2" fill="#ff00ff"/>
<rect x="348.1" y="571.5" width="6.4" height="2.7" fill="#ff00ff"/>
<rect x="357.9" y="571.7" width="6.4" height="2.5" fill="#ff00ff"/>
<rect x="367.7" y="572.5" width="6.4" height="1.7" fill="#ff00ff"/>
<rect x="377.4" y="572.8" width="6.4" height="1.4" fill="#ff00ff"/>
<rect x="387.2" y="573" width="6.4" height="1.4" fill="#00ffff"/>
<rect x="397" y="572.9" width="6.4" height="1.3" fill="#ff00ff"/>
<rect x="406.8" y="572.5" width="6.4" height="1.7" fill="#ff00ff"/>
<rect x="416.6" y="572.3" width="6.4" height="1.9" fill="#ff00ff"/>
<rect x="426.4" y="572.1" width="6.4" height="2.1" fill="#ff00ff"/>
<rect x="436.2" y="572.1" width="6.4" height="2.1" fill="#ff00ff"/>
<rect x="445.9" y="572" width="6.4" height="2.2" fill="#ff00ff"/>
<rect x="455.7" y="571.6" width="6.4" height="2.6" fill="#ff00ff"/>
<rect x="465.5" y="570.8" width="6.4" height="3.4" fill="#ff00ff"/>
<rect x="475.3" y="570.4" width="6.4" height="3.8" fill="#ff00ff"/>
<rect x="485.1" y="570.5" width="6.4" height="3.7" fill="#ff00ff"/>
<rect x="494.9" y="570" width="6.4" height="4.2" fill="#ff00ff"/>
<rect x="504.7" y="572.7" width="6.4" height="1.5" fill="#ff00ff"/>
<rect x="514.4" y="573" width="6.4" height="1.2" fill="#00ffff"/>
<rect x="524.2" y="573" width="6.4" height="2.4" fill="#00ffff"/>
<rect x="534" y="573" width="6.4" height="3.4" fill="#00ffff"/>
<rect x="543.8" y="573" width="6.4" height="2.7" fill="#00ffff"/>
<rect x="553.6" y="573" width="6.4" height="1.9" fill="#00ffff"/>
<rect x="563.4" y="573" width="6.4" height="1.6" fill="#00ffff"/>
<rect x="573.1" y="573" width="6.4" height="1.5" fill="#00ffff"/>
<rect x="582.9" y="573" width="6.4" height="1.3" fill="#00ffff"/>
<rect x="592.7" y="572.5" width="6.4" height="1.7" fill="#ff00ff"/>
<rect x="602.5" y="571.9" width="6.4" height="2.3" fill="#ff00ff"/>
<rect x="612.3" y="571.5" width="6.4" height="2.7" fill="#ff00ff"/>
<rect x="622.1" y="571.3" width="6.4" height="2.9" fill="#ff00ff"/>
<rect x="631.9" y="572" width="6.4" height="2.2" fill="#ff00ff"/>
<rect x="641.6" y="571.6" width="6.4" height="2.6" fill="#ff00ff"/>
<rect x="651.4" y="570.3" width="6.4" height="3.9" fill="#ff00ff"/>
<rect x="661.2" y="569.7" width="6.4" height="4.5" fill="#ff00ff"/>
<rect x="671" y="568.3" width="6.4" height="5.9" fill="#ff00ff"/>
<rect x="680.8" y="567.1" width="6.4" height="7.1" fill="#ff00ff"/>
<rect x="690.6" y="566" width="6.4" height="8.2" fill="#ff00ff"/>
<rect x="700.4" y="566" width="6.4" height="8.2" fill="#ff00ff"/>
<rect x="710.1" y="564.3" width="6.4" height="9.9" fill="#ff00ff"/>
<rect x="719.9" y="562.6" width="6.4" height="11.6" fill="#ff00ff"/>
<rect x="729.7" y="569.6" width="6.4" height="4.6" fill="#ff00ff"/>
<rect x="739.5" y="573" width="6.4" height="4.7" fill="#00ffff"/>
<line x1="13.3" x2="992" y1="573.6" y2="573.6" stroke="#339933" stroke-width="1.4"/>
<path d="M22.5 552 L28.4 550.8 L38.2 550 L48 550.8 L57.7 551.5 L67.5 552 L77.3 553 L87.1 554.2 L96.9 555.8 L106.7 557.5 L116.4 559 L126.2 560.5 L136 562 L145.8 563.7 L155.6 565 L165.4 566.2 L175.2 567.1 L184.9 567.2 L194.7 567 L204.5 567 L214.3 567 L224.1 567.2 L233.9 567.5 L243.7 567.8 L253.4 568 L263.2 568.3 L273 568.7 L282.8 568.8 L292.6 568.7 L302.4 568.3 L312.2 568 L321.9 567.2 L331.7 566.7 L341.5 566.2 L351.3 565.5 L361.1 565.3 L370.9 565.2 L380.6 565 L390.4 565 L400.2 564.8 L410 564.5 L419.8 564.3 L429.6 564 L439.4 563.7 L449.1 563.3 L458.9 563 L468.7 562.5 L478.5 561.7 L488.3 560.8 L498.1 560 L507.9 559.8 L517.6 559.9 L527.4 560.5 L537.2 561.3 L547 561.8 L556.8 562.2 L566.6 562.3 L576.3 562.5 L586.1 562.5 L595.9 562.2 L605.7 561.8 L615.5 561.3 L625.3 560.8 L635.1 560.5 L644.8 560 L654.6 559.3 L664.4 558.3 L674.2 557 L684 555.3 L693.8 553.3 L703.6 551.3 L713.3 549.5 L723.1 546.7 L732.9 545 L739.8 545.6" stroke="#3c3cff" stroke-width="1.25" stroke-dasharray="9 4 2 4"/>
<path d="M13.3 548.7 L18.6 548.3 L28.4 546.3 L38.2 549.2 L48 551.3 L57.7 552.5 L67.5 554.2 L77.3 557 L87.1 559.7 L96.9 561.7 L106.7 563.7 L116.4 565.5 L126.2 566.7 L136 568.3 L145.8 569.5 L155.6 570.3 L165.4 570.5 L175.2 569.5 L184.9 568.3 L194.7 566.3 L204.5 565.5 L214.3 566.3 L224.1 567.5 L233.9 568.3 L243.7 568.3 L253.4 569.2 L263.2 569.7 L273 570 L282.8 569.2 L292.6 568 L302.4 567.5 L312.2 565.8 L321.9 564.7 L331.7 564.2 L341.5 564 L351.3 563.8 L361.1 563.7 L370.9 564.7 L380.6 564.7 L390.4 565.5 L400.2 564.5 L410 563.7 L419.8 563.3 L429.6 562.8 L439.4 562.5 L449.1 562 L458.9 561.3 L468.7 560 L478.5 558.8 L488.3 558 L498.1 556.7 L507.9 559.2 L517.6 560 L527.4 562 L537.2 563.8 L547 563.7 L556.8 563 L566.6 562.8 L576.3 563 L586.1 562.8 L595.9 561.3 L605.7 560.3 L615.5 559.5 L625.3 558.8 L635.1 559.2 L644.8 558.3 L654.6 556.3 L664.4 554.2 L674.2 551.5 L684 548.7 L693.8 545.5 L703.6 543.3 L713.3 539.7 L723.1 535.3 L732.9 540.8 L742.7 549.7" stroke="#ff0000" stroke-width="2.4"/>
</g>
<g stroke="#c8c8c8" fill="none">
<line x1="999.7" x2="999.7" y1="13" y2="605.5" stroke-width="1.4"/>
<line x1="7" x2="1000.4" y1="605" y2="605" stroke-width="1.6"/>
<line x1="999.7" x2="1005.5" y1="60.3" y2="60.3" stroke-width="1.2"/>
<line x1="999.7" x2="1005.5" y1="85.8" y2="85.8" stroke-width="1.2"/>
<line x1="999.7" x2="1005.5" y1="111.7" y2="111.7" stroke-width="1.2"/>
<line x1="999.7" x2="1005.5" y1="138.1" y2="138.1" stroke-width="1.2"/>
<line x1="999.7" x2="1005.5" y1="164.1" y2="164.1" stroke-width="1.2"/>
<line x1="999.7" x2="1005.5" y1="190" y2="190" stroke-width="1.2"/>
<line x1="999.7" x2="1005.5" y1="216.2" y2="216.2" stroke-width="1.2"/>
<line x1="999.7" x2="1005.5" y1="242.2" y2="242.2" stroke-width="1.2"/>
<line x1="999.7" x2="1005.5" y1="267.9" y2="267.9" stroke-width="1.2"/>
<line x1="999.7" x2="1005.5" y1="293.9" y2="293.9" stroke-width="1.2"/>
<line x1="999.7" x2="1005.5" y1="320.3" y2="320.3" stroke-width="1.2"/>
<line x1="999.7" x2="1005.5" y1="346.3" y2="346.3" stroke-width="1.2"/>
<line x1="999.7" x2="1005.5" y1="371.7" y2="371.7" stroke-width="1.2"/>
<line x1="999.7" x2="1005.5" y1="430.2" y2="430.2" stroke-width="1.2"/>
<line x1="999.7" x2="1005.5" y1="461.6" y2="461.6" stroke-width="1.2"/>
<line x1="999.7" x2="1005.5" y1="492.3" y2="492.3" stroke-width="1.2"/>
<line x1="999.7" x2="1005.5" y1="539.4" y2="539.4" stroke-width="1.2"/>
<line x1="999.7" x2="1005.5" y1="557.1" y2="557.1" stroke-width="1.2"/>
<line x1="999.7" x2="1005.5" y1="573.6" y2="573.6" stroke-width="1.2"/>
<line x1="999.7" x2="1005.5" y1="591.2" y2="591.2" stroke-width="1.2"/>
<line x1="18.6" x2="18.6" y1="605" y2="609.5" stroke-width="1.2"/>
<line x1="48" x2="48" y1="605" y2="609.5" stroke-width="1.2"/>
<line x1="77.3" x2="77.3" y1="605" y2="609.5" stroke-width="1.2"/>
<line x1="126.2" x2="126.2" y1="605" y2="609.5" stroke-width="1.2"/>
<line x1="155.6" x2="155.6" y1="605" y2="609.5" stroke-width="1.2"/>
<line x1="175.2" x2="175.2" y1="605" y2="609.5" stroke-width="1.2"/>
<line x1="204.5" x2="204.5" y1="605" y2="609.5" stroke-width="1.2"/>
<line x1="233.9" x2="233.9" y1="605" y2="609.5" stroke-width="1.2"/>
<line x1="263.2" x2="263.2" y1="605" y2="609.5" stroke-width="1.2"/>
<line x1="321.9" x2="321.9" y1="605" y2="609.5" stroke-width="1.2"/>
<line x1="351.3" x2="351.3" y1="605" y2="609.5" stroke-width="1.2"/>
<line x1="370.9" x2="370.9" y1="605" y2="609.5" stroke-width="1.2"/>
<line x1="390.4" x2="390.4" y1="605" y2="609.5" stroke-width="1.2"/>
<line x1="419.8" x2="419.8" y1="605" y2="609.5" stroke-width="1.2"/>
<line x1="449.1" x2="449.1" y1="605" y2="609.5" stroke-width="1.2"/>
<line x1="478.5" x2="478.5" y1="605" y2="609.5" stroke-width="1.2"/>
<line x1="537.2" x2="537.2" y1="605" y2="609.5" stroke-width="1.2"/>
<line x1="576.3" x2="576.3" y1="605" y2="609.5" stroke-width="1.2"/>
<line x1="595.9" x2="595.9" y1="605" y2="609.5" stroke-width="1.2"/>
<line x1="625.3" x2="625.3" y1="605" y2="609.5" stroke-width="1.2"/>
<line x1="654.6" x2="654.6" y1="605" y2="609.5" stroke-width="1.2"/>
<line x1="684" x2="684" y1="605" y2="609.5" stroke-width="1.2"/>
<line x1="713.3" x2="713.3" y1="605" y2="609.5" stroke-width="1.2"/>
<line x1="742.7" x2="742.7" y1="605" y2="609.5" stroke-width="1.2"/>
</g>
<g class="ax">
<text x="1008.3" y="65.6">5800</text>
<text x="1008.3" y="91.1">5600</text>
<text x="1008.3" y="117">5400</text>
<text x="1008.3" y="143.4">5200</text>
<text x="1008.3" y="169.4">5000</text>
<text x="1008.3" y="195.3">4800</text>
<text x="1008.3" y="221.5">4600</text>
<text x="1008.3" y="247.5">4400</text>
<text x="1008.3" y="273.2">4200</text>
<text x="1008.3" y="299.2">4000</text>
<text x="1008.3" y="325.6">3800</text>
<text x="1008.3" y="351.6">3600</text>
<text x="1008.3" y="377">3400</text>
<g clip-path="url(#cl)">
<text x="1008.3" y="435.5">80</text>
<text x="1008.3" y="466.9">40</text>
<text x="1008.3" y="497.6">0</text>
</g>
<text x="1008.3" y="544.7">200</text>
<text x="1008.3" y="562.4">100</text>
<text x="1008.3" y="578.9">0</text>
<text x="1008.3" y="596.5">-100</text>
</g>
<g class="ax" text-anchor="middle">
<text x="19.2" y="623.7" fill="#222" stroke="#222">17</text>
<text x="48.6" y="623.7" fill="#222" stroke="#222">22</text>
<text x="77.9" y="623.7" fill="#222" stroke="#222">27</text>
<text x="126.2" y="623.7" fill="#a033ff" stroke="#a033ff">11月</text>
<text x="156.2" y="623.7" fill="#222" stroke="#222">6</text>
<text x="175.8" y="623.7" fill="#222" stroke="#222">10</text>
<text x="205.1" y="623.7" fill="#222" stroke="#222">13</text>
<text x="234.5" y="623.7" fill="#222" stroke="#222">18</text>
<text x="263.8" y="623.7" fill="#222" stroke="#222">21</text>
<text x="321.9" y="623.7" fill="#a033ff" stroke="#a033ff">12月</text>
<text x="351.9" y="623.7" fill="#222" stroke="#222">4</text>
<text x="371.5" y="623.7" fill="#222" stroke="#222">8</text>
<text x="391" y="623.7" fill="#222" stroke="#222">10</text>
<text x="420.4" y="623.7" fill="#222" stroke="#222">15</text>
<text x="449.7" y="623.7" fill="#222" stroke="#222">18</text>
<text x="479.1" y="623.7" fill="#222" stroke="#222">23</text>
<text x="537.2" y="623.7" fill="#a033ff" stroke="#a033ff">2026</text>
<text x="576.9" y="623.7" fill="#222" stroke="#222">8</text>
<text x="596.5" y="623.7" fill="#222" stroke="#222">12</text>
<text x="625.9" y="623.7" fill="#222" stroke="#222">15</text>
<text x="655.2" y="623.7" fill="#222" stroke="#222">20</text>
<text x="684.6" y="623.7" fill="#222" stroke="#222">23</text>
<text x="713.9" y="623.7" fill="#222" stroke="#222">28</text>
<text x="742.7" y="623.7" fill="#a033ff" stroke="#a033ff">2月</text>
</g>
<text class="t" x="14" y="27.2" fill="#222" stroke="#222" textLength="131" lengthAdjust="spacingAndGlyphs">GLDACTM/CMX+</text>
<text class="t" x="152.6" y="27.2" fill="#222" stroke="#222" textLength="57.8" lengthAdjust="spacingAndGlyphs">COMEX</text>
<text class="t" x="210.6" y="27.2" fill="#222" stroke="#222" textLength="92.4" lengthAdjust="spacingAndGlyphs">金先物(全日)</text>
<text class="t" x="303.6" y="27.2" fill="#222" stroke="#222" textLength="46" lengthAdjust="spacingAndGlyphs">25/06</text>
<text class="t" x="360.8" y="27.2" fill="#222" stroke="#222" textLength="46.4" lengthAdjust="spacingAndGlyphs">現在値</text>
<text class="t" x="415.2" y="27.2" fill="#222" stroke="#222" textLength="37.8" lengthAdjust="spacingAndGlyphs">日足:</text>
<text class="t" x="457" y="27.2" fill="#222" stroke="#222" textLength="56" lengthAdjust="spacingAndGlyphs">4481.2</text>
<text class="t" x="14" y="45.5" fill="#ff22f4" stroke="#ff22f4" textLength="42.5" lengthAdjust="spacingAndGlyphs">FSMA</text>
<text class="t" x="63" y="45.5" fill="#ff22f4" stroke="#ff22f4" textLength="85" lengthAdjust="spacingAndGlyphs">SMA1(50):</text>
<text class="t" x="155.3" y="45.5" fill="#ff22f4" stroke="#ff22f4" textLength="74.4" lengthAdjust="spacingAndGlyphs">4487.642</text>
<text class="t" x="236" y="45.5" fill="#11f4ff" stroke="#11f4ff" textLength="94" lengthAdjust="spacingAndGlyphs">SMA2(100):</text>
<text class="t" x="338.6" y="45.5" fill="#11f4ff" stroke="#11f4ff" textLength="74" lengthAdjust="spacingAndGlyphs">4238.223</text>
<text class="t" x="419.8" y="45.5" fill="#22f422" stroke="#22f422" textLength="94.2" lengthAdjust="spacingAndGlyphs">SMA3(200):</text>
<text class="t" x="522" y="45.5" fill="#22f422" stroke="#22f422" textLength="75.2" lengthAdjust="spacingAndGlyphs">3810.272</text>
<text class="t" x="14.2" y="64" fill="#2f74ff" stroke="#2f74ff" textLength="148.4" lengthAdjust="spacingAndGlyphs">IKH(9, 26, 52, 26)</text>
<text class="t" x="167.2" y="64" fill="#2f74ff" stroke="#2f74ff" textLength="51.8" lengthAdjust="spacingAndGlyphs">転換線:</text>
<text class="t" x="227.2" y="64" fill="#2f74ff" stroke="#2f74ff" textLength="38.1" lengthAdjust="spacingAndGlyphs">5025</text>
<text class="t" x="272.2" y="64" fill="#ff2a2a" stroke="#ff2a2a" textLength="52.8" lengthAdjust="spacingAndGlyphs">基準線:</text>
<text class="t" x="333.8" y="64" fill="#ff2a2a" stroke="#ff2a2a" textLength="63.4" lengthAdjust="spacingAndGlyphs">4955.55</text>
<text class="t" x="404.4" y="64" fill="#ff2a2a" stroke="#ff2a2a" textLength="76.6" lengthAdjust="spacingAndGlyphs">先行スパン</text>
<text class="t" x="487.2" y="64" fill="#ff2a2a" stroke="#ff2a2a" textLength="15.8" lengthAdjust="spacingAndGlyphs">A:</text>
<text class="t" x="511.6" y="64" fill="#ff2a2a" stroke="#ff2a2a" textLength="74.6" lengthAdjust="spacingAndGlyphs">4990.275</text>
<text class="t" x="593" y="64" fill="#aa30ff" stroke="#aa30ff" textLength="76" lengthAdjust="spacingAndGlyphs">先行スパン</text>
<text class="t" x="678" y="64" fill="#aa30ff" stroke="#aa30ff" textLength="14.2" lengthAdjust="spacingAndGlyphs">B:</text>
<text class="t" x="700.8" y="64" fill="#aa30ff" stroke="#aa30ff" textLength="64.6" lengthAdjust="spacingAndGlyphs">4822.45</text>
<text class="t" x="771.6" y="64" fill="#22a022" stroke="#22a022" textLength="84.8" lengthAdjust="spacingAndGlyphs">遅行スパン:</text>
<text class="t" x="862.8" y="64" fill="#22a022" stroke="#22a022" textLength="55.2" lengthAdjust="spacingAndGlyphs">4481.2</text>
<text class="t" x="14.2" y="396.8" fill="#222" stroke="#222" textLength="60.2" lengthAdjust="spacingAndGlyphs">RSI(14,</text>
<text class="t" x="82" y="396.8" fill="#222" stroke="#222" textLength="89.8" lengthAdjust="spacingAndGlyphs">ワイルダー):</text>
<text class="t" x="179.6" y="396.8" fill="#222" stroke="#222" textLength="85.2" lengthAdjust="spacingAndGlyphs">42.049518</text>
<text class="t" x="14.2" y="508.4" fill="#ff1a1a" stroke="#ff1a1a" textLength="141.4" lengthAdjust="spacingAndGlyphs">MACD(12, 26, 9):</text>
<text class="t" x="161.6" y="508.4" fill="#ff1a1a" stroke="#ff1a1a" textLength="94" lengthAdjust="spacingAndGlyphs">137.717362</text>
<text class="t" x="264" y="508.4" fill="#3030ff" stroke="#3030ff" textLength="67.6" lengthAdjust="spacingAndGlyphs">トリガー:</text>
<text class="t" x="338" y="508.4" fill="#3030ff" stroke="#3030ff" textLength="95.2" lengthAdjust="spacingAndGlyphs">159.513658</text>
<text class="t" x="439.4" y="508.4" fill="#228b22" stroke="#228b22" textLength="60.8" lengthAdjust="spacingAndGlyphs">MACDF:</text>
<text class="t" x="508.4" y="508.4" fill="#228b22" stroke="#228b22" textLength="91.6" lengthAdjust="spacingAndGlyphs">-21.796296</text>
<rect x="8" y="638.6" width="991.5" height="7.6" rx="3.8" fill="#fff" stroke="#e2e2e2" stroke-width="1.2"/>
<path d="M11 646.2 H996" stroke="#e0e0e0" stroke-width="1.8" fill="none"/>
<rect x="962.8" y="639.9" width="36.2" height="4.2" rx="2.1" fill="#000"/>
</g>
</svg></body></html>
